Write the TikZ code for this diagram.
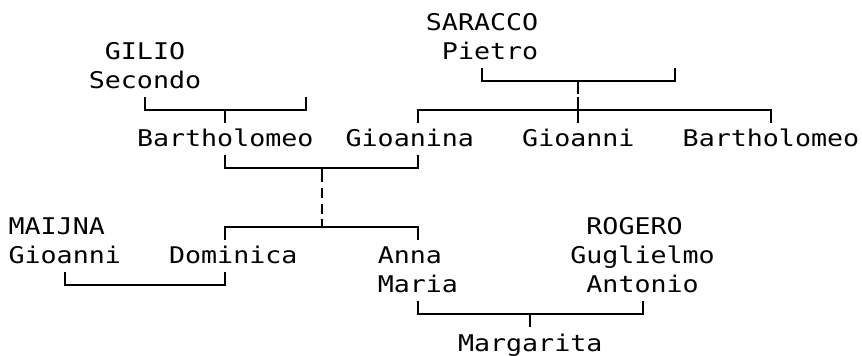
\documentclass[tikz,border=0pt]{standalone}
\usepackage{fontspec}
\newfontfamily\treemono[FakeStretch=1.159]{DejaVu Sans Mono}
\begin{document}
\begin{tikzpicture}[x=1pt,y=-1pt,
  nm/.style={anchor=base west, inner sep=0pt, outer sep=0pt,
    font=\treemono\fontsize{23}{27}\selectfont},
  ln/.style={line width=2pt, line cap=butt, line join=miter, draw=black},
  dashln/.style={ln, dash pattern=on 14pt off 6pt on 10pt off 6pt on 10pt off 5pt on 8pt off 0pt}]
\useasboundingbox (0,0) rectangle (862,356);
% ---- names ----
\node[nm] (saracco)  at (425.9,30)   {SARACCO};
\node[nm] (pietro)   at (441.95,59.2) {Pietro};
\node[nm] (gilio)    at (104.9,59.2) {GILIO};
\node[nm] (secondo)  at (88.85,88.4) {Secondo};
\node[nm] (bartA)    at (137,146.8)  {Bartholomeo};
\node[nm] (gioanina) at (345.65,146.8) {Gioanina};
\node[nm] (gioanniA) at (522.2,146.8) {Gioanni};
\node[nm] (bartB)    at (682.7,146.8) {Bartholomeo};
\node[nm] (maijna)   at (8.6,234.4)  {MAIJNA};
\node[nm] (gioanniB) at (8.6,263.6)  {Gioanni};
\node[nm] (dominica) at (169.1,263.6) {Dominica};
\node[nm] (anna)     at (377.75,263.6) {Anna};
\node[nm] (maria)    at (377.75,292.8) {Maria};
\node[nm] (rogero)   at (586.4,234.4) {ROGERO};
\node[nm] (guglielmo) at (570.35,263.6) {Guglielmo};
\node[nm] (antonio)  at (586.4,292.8) {Antonio};
\node[nm] (margarita) at (458,351.2) {Margarita};
% ---- bracket points ----
% GILIO Secondo marriage
\coordinate (s1) at (145.025,97);   \coordinate (s2) at (145.025,110);
\coordinate (s3) at (305.525,110);  \coordinate (s4) at (305.525,97);
\coordinate (s5) at (225.275,110);  \coordinate (s6) at (225.275,123);
% SARACCO Pietro marriage
\coordinate (p1) at (482.075,67.8); \coordinate (p2) at (482.075,80.8);
\coordinate (p3) at (674.675,80.8); \coordinate (p4) at (674.675,67.8);
\coordinate (p5) at (578.375,80.8); \coordinate (p6) at (578.375,93.6);
\coordinate (p7) at (578.375,96.8); \coordinate (p8) at (578.375,123);
% siblings line
\coordinate (c1) at (417.875,123);  \coordinate (c2) at (417.875,110);
\coordinate (c3) at (770.975,110);  \coordinate (c4) at (770.975,123);
% Bartholomeo Gioanina marriage
\coordinate (m1) at (225.275,155.4); \coordinate (m2) at (225.275,168.4);
\coordinate (m3) at (417.875,168.4); \coordinate (m4) at (417.875,155.4);
\coordinate (m5) at (321.575,168.4); \coordinate (m6) at (321.575,226.8);
% children Dominica Anna Maria
\coordinate (d1) at (225.275,239.8); \coordinate (d2) at (225.275,226.8);
\coordinate (d3) at (417.875,226.8); \coordinate (d4) at (417.875,239.8);
% MAIJNA Gioanni - Dominica
\coordinate (g1) at (64.775,272.2);  \coordinate (g2) at (64.775,285.2);
\coordinate (g3) at (225.275,285.2); \coordinate (g4) at (225.275,272.2);
% Anna Maria - ROGERO
\coordinate (r1) at (417.875,301.4); \coordinate (r2) at (417.875,314.4);
\coordinate (r3) at (642.575,314.4); \coordinate (r4) at (642.575,301.4);
\coordinate (r5) at (530.225,314.4); \coordinate (r6) at (530.225,327.4);
% ---- connectors ----
\draw[ln] (s1) -- (s2) -- (s3) -- (s4);
\draw[ln] (s5) -- (s6);
\draw[ln] (p1) -- (p2) -- (p3) -- (p4);
\draw[ln] (p5) -- (p6);
\draw[ln] (p7) -- (p8);
\draw[ln] (c1) -- (c2) -- (c3) -- (c4);
\draw[ln] (m1) -- (m2) -- (m3) -- (m4);
\draw[dashln] (m5) -- (m6);
\draw[ln] (d1) -- (d2) -- (d3) -- (d4);
\draw[ln] (g1) -- (g2) -- (g3) -- (g4);
\draw[ln] (r1) -- (r2) -- (r3) -- (r4);
\draw[ln] (r5) -- (r6);
\end{tikzpicture}
\end{document}
